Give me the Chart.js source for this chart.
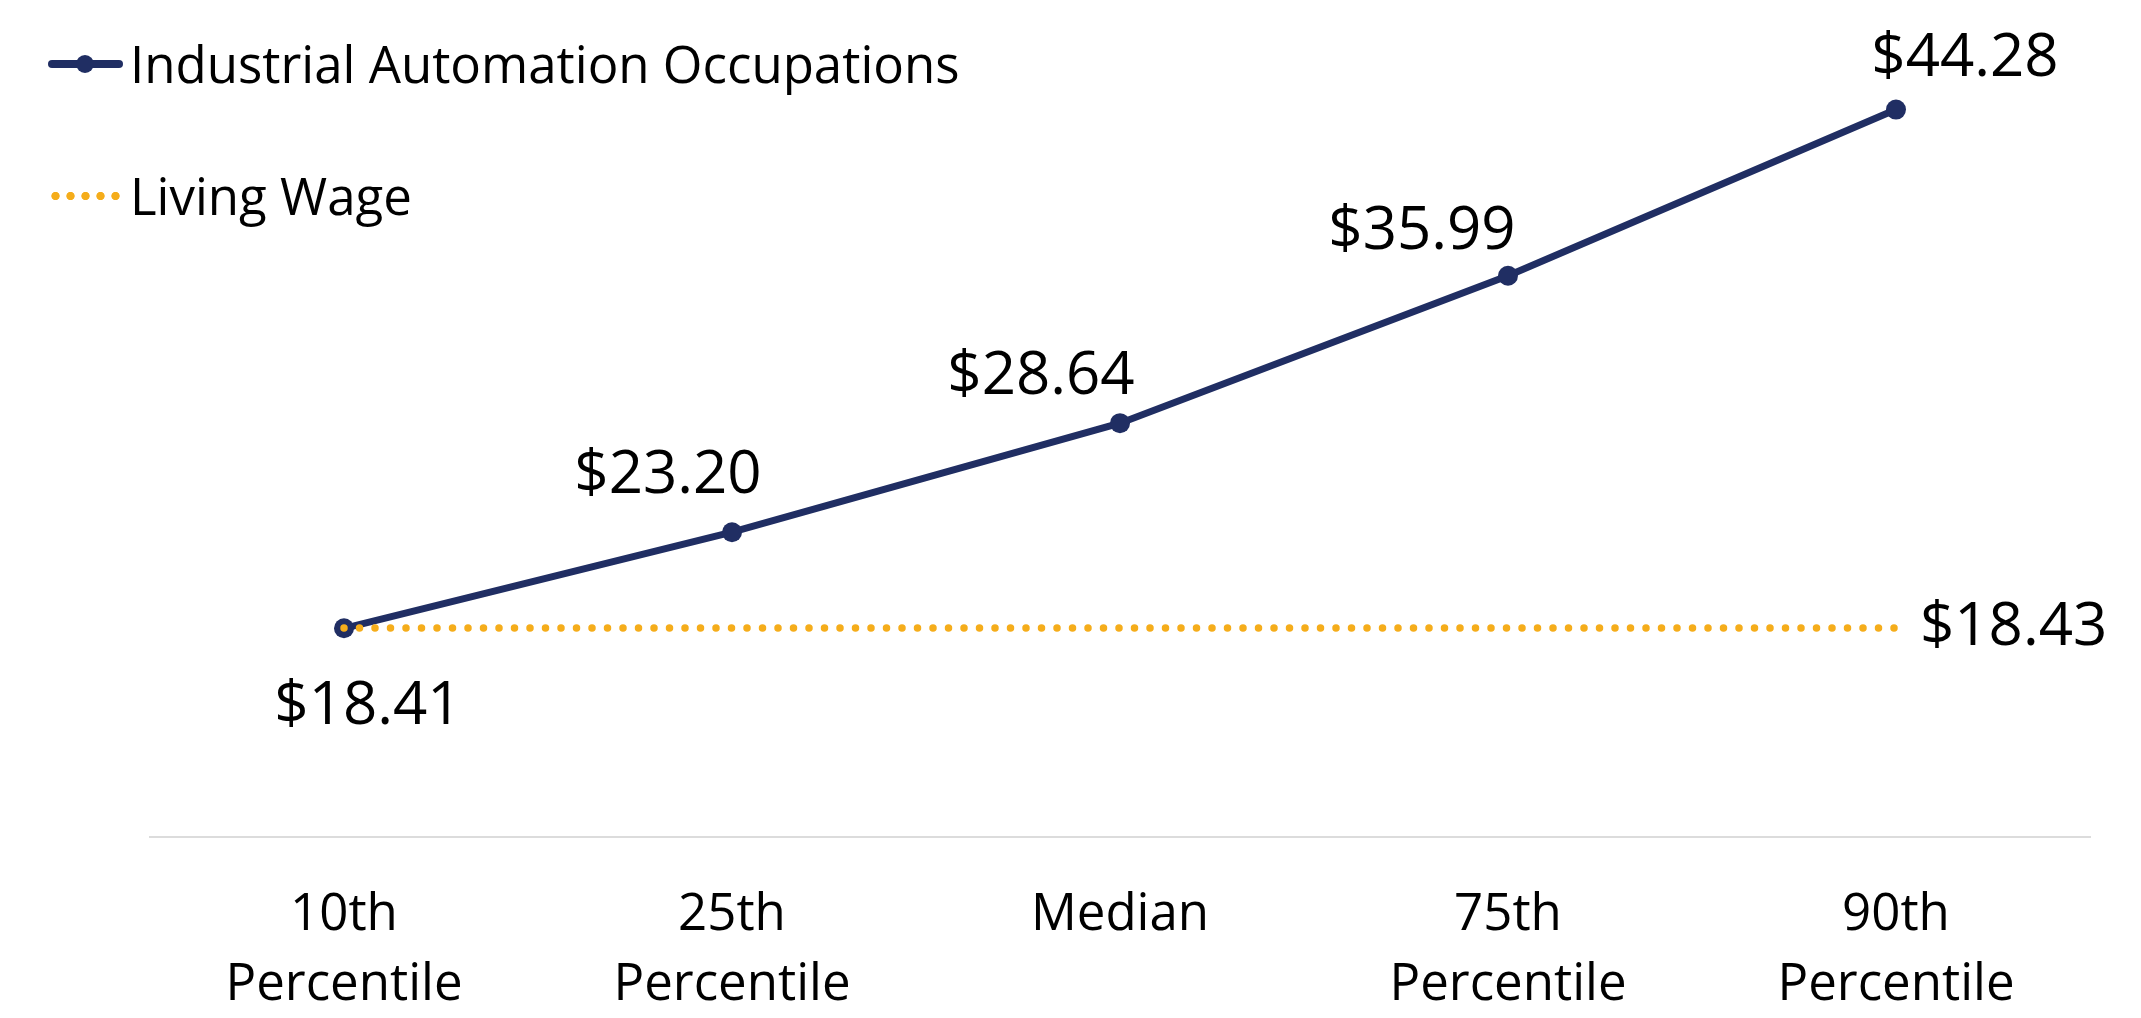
<!DOCTYPE html>
<html>
<head>
<meta charset="utf-8">
<script src="https://cdn.jsdelivr.net/npm/chart.js@4.4.1/dist/chart.umd.min.js"></script>
<style>
  html,body{margin:0;padding:0;background:#fff;}
  #wrap{position:relative;width:2141px;height:1018px;font-family:"Open Sans",sans-serif;}
  .legend{position:absolute;left:48px;display:flex;align-items:center;font-size:51px;color:#000;line-height:1;}
  .legend .mk{position:relative;width:75px;height:18px;margin-right:7px;}
  .mk.line::before{content:"";position:absolute;left:0;right:0;top:5px;height:8px;background:#202E63;border-radius:4px;}
  .mk.line::after{content:"";position:absolute;left:28px;top:0;width:18px;height:18px;border-radius:50%;background:#202E63;}
  .mk.dots{background:radial-gradient(circle,#F5AD1B 3.8px,transparent 4.5px) repeat-x;background-size:15px 18px;}
</style>
</head>
<body>
<div id="wrap">
  <canvas id="c"></canvas>
  <div class="legend" id="lg1" style="top:38px;"><span class="mk line"></span><span></span></div>
  <div class="legend" id="lg2" style="top:170px;"><span class="mk dots"></span><span></span></div>
</div>
<script>
// data
const categories = [['10th','Percentile'], ['25th','Percentile'], 'Median', ['75th','Percentile'], ['90th','Percentile']];
const wages = [18.41, 23.20, 28.64, 35.99, 44.28];
const livingWage = [18.43, 18.43, 18.43, 18.43, 18.43];
const seriesNames = ['Industrial Automation Occupations', 'Living Wage'];

const NAVY = '#202E63', GOLD = '#F5AD1B';
const FONT = '"Open Sans", sans-serif';
// where each wage label sits relative to its point (px)
const labelOffsets = [[24,79],[-64,-56],[-79,-46],[-86,-44],[69,-51]];

document.querySelector('#lg1 span:last-child').textContent = seriesNames[0];
document.querySelector('#lg2 span:last-child').textContent = seriesNames[1];

const fmt = v => '$' + v.toFixed(2);

const valueLabels = {
  id:'valueLabels',
  afterDatasetsDraw(chart){
    const ctx = chart.ctx;
    ctx.save();
    ctx.font = '60px ' + FONT;
    ctx.fillStyle = '#000';
    ctx.textBaseline = 'middle';
    const wMeta = chart.getDatasetMeta(1);
    wMeta.data.forEach((pt,i)=>{
      ctx.textAlign = 'center';
      ctx.fillText(fmt(wages[i]), pt.x + labelOffsets[i][0], pt.y + labelOffsets[i][1]);
    });
    const lMeta = chart.getDatasetMeta(0);
    const last = lMeta.data[lMeta.data.length-1];
    ctx.textAlign = 'left';
    ctx.fillText(fmt(livingWage[livingWage.length-1]), last.x + 24, last.y);
    ctx.restore();
  }
};

new Chart(document.getElementById('c'), {
  type:'line',
  data:{ labels: categories, datasets:[
    {label: seriesNames[1], data: livingWage, borderColor: GOLD, borderWidth:7.5, borderDash:[0,15.5],
     borderCapStyle:'round', pointRadius:0, order:0},
    {label: seriesNames[0], data: wages, borderColor: NAVY, backgroundColor: NAVY, borderWidth:7,
     pointRadius:10, pointBackgroundColor: NAVY, pointBorderWidth:0, tension:0, order:1},
  ]},
  options:{
    responsive:true, maintainAspectRatio:false, animation:false,
    layout:{ padding:{ left:150, right:51, top:35, bottom:0 } },
    plugins:{ legend:{display:false}, tooltip:{enabled:false} },
    scales:{
      x:{ offset:true,
          grid:{display:false, drawTicks:false},
          border:{display:true, color:'#DCDCDC', width:2},
          ticks:{ color:'#000', padding:44, font:{family:FONT, size:51, lineHeight:1.37}, maxRotation:0, autoSkip:false },
          afterFit(scale){ scale.height = 181; } },
      y:{ display:false, min:8, max:48 }
    }
  },
  plugins:[valueLabels]
});
</script>
</body>
</html>
